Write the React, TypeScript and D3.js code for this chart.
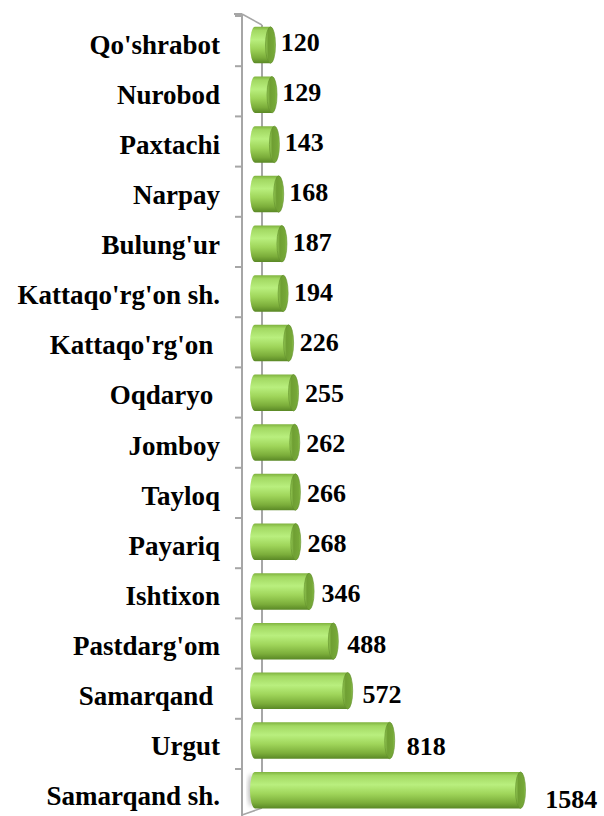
import React from "react";
import * as d3 from "d3";

const categories = [
  "Qo'shrabot",
  "Nurobod",
  "Paxtachi",
  "Narpay",
  "Bulung'ur",
  "Kattaqo'rg'on sh.",
  "Kattaqo'rg'on ",
  "Oqdaryo ",
  "Jomboy",
  "Tayloq",
  "Payariq",
  "Ishtixon",
  "Pastdarg'om",
  "Samarqand ",
  "Urgut",
  "Samarqand sh.",
];
const values = [120, 129, 143, 168, 187, 194, 226, 255, 262, 266, 268, 346, 488, 572, 818, 1584];

const W = 604;
const H = 816;

export default function App() {
  const x = d3.scaleLinear().domain([0, 1584]).range([250, 520.5]);
  const yBar = d3.scaleBand<string>().domain(categories).range([20.2, 815]).paddingInner(0.265).paddingOuter(0.1325);
  const yLab = d3.scaleBand<string>().domain(categories).range([20, 821]);
  const rx = 5;
  const bh = yBar.bandwidth();
  const axisColor = "#a6a6a6";
  const frontX = 242;
  const backX = 262;
  const step = yLab.step();
  const ticks = d3.range(0, categories.length).map((i) => 16 + i * (769 - 16) / 15);

  return (
    <svg width={W} height={H} style={{ position: "absolute", left: 0, top: 0, background: "#fff" }}>
      <defs>
        <linearGradient id="body" x1="0" y1="0" x2="0" y2="1">
          <stop offset="0" stopColor="#7fb23e" />
          <stop offset="0.1" stopColor="#a2d862" />
          <stop offset="0.35" stopColor="#b9ef7e" />
          <stop offset="0.6" stopColor="#9fd55a" />
          <stop offset="0.85" stopColor="#7bad3a" />
          <stop offset="1" stopColor="#5a8826" />
        </linearGradient>
        <linearGradient id="cap" x1="0" y1="0" x2="1" y2="0">
          <stop offset="0" stopColor="#94c954" />
          <stop offset="0.3" stopColor="#6f9f33" />
          <stop offset="0.8" stopColor="#76a838" />
          <stop offset="1" stopColor="#8dc24c" />
        </linearGradient>
        <filter id="shadow" x="-20%" y="-20%" width="140%" height="140%">
          <feGaussianBlur stdDeviation="2" />
        </filter>
      </defs>
      {/* back wall line */}
      <line x1={backX} y1={25} x2={backX} y2={808} stroke={axisColor} strokeWidth={2} />
      {/* front axis line */}
      <line x1={frontX} y1={14} x2={frontX} y2={816} stroke={axisColor} strokeWidth={2} />
      <line x1={frontX} y1={14} x2={backX} y2={25} stroke={axisColor} strokeWidth={1.5} />
      <line x1={frontX} y1={815} x2={backX} y2={808} stroke={axisColor} strokeWidth={1.5} />
      <line x1={234} y1={14} x2={frontX} y2={14} stroke={axisColor} strokeWidth={2} />
      {ticks.map((t, i) => (
        <line key={i} x1={235} y1={t} x2={frontX} y2={t} stroke={axisColor} strokeWidth={2} />
      ))}
      {categories.map((c, i) => {
        const v = values[i];
        const y0 = yBar(c) as number;
        const cy = y0 + bh / 2;
        const ry = bh / 2;
        const xl = x(0) + rx;
        const xr = x(v);
        const path = `M${xl},${y0} L${xr},${y0} L${xr},${y0 + bh} L${xl},${y0 + bh} A${rx},${ry} 0 0 1 ${xl},${y0} Z`;
        const labC = (yLab(c) as number) + step / 2;
        return (
          <g key={c}>
            {i === categories.length - 1 && (
              <ellipse cx={x(0) + 1} cy={cy} rx={3} ry={ry - 2} fill="#bdbdbd" filter="url(#shadow)" />
            )}
            <path d={path} fill="url(#body)" />
            <ellipse cx={xr} cy={cy} rx={rx} ry={ry} fill="url(#cap)" stroke="#5f8d2a" strokeWidth={0.6} />
            <text
              x={220}
              y={labC + 9}
              textAnchor="end"
              fontFamily="'Liberation Serif', 'Times New Roman', serif"
              fontWeight="bold"
              fontSize={27}
              style={{ whiteSpace: "pre" }}
              fill="#000"
            >
              {c}
            </text>
            <text
              x={xr + rx + 4 + 0.01 * v}
              y={labC + 5 + 0.0045 * v}
              fontFamily="'Liberation Serif', 'Times New Roman', serif"
              fontWeight="bold"
              fontSize={26}
              fill="#000"
            >
              {v}
            </text>
          </g>
        );
      })}
    </svg>
  );
}
